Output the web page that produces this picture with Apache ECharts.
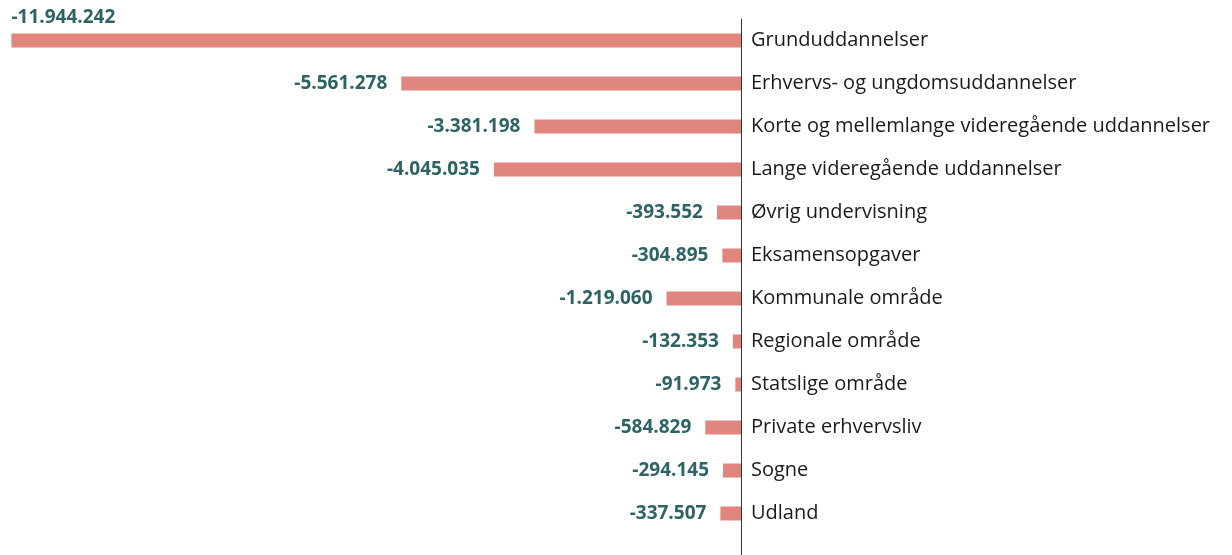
<!DOCTYPE html>
<html lang="da">
<head>
    <meta charset="UTF-8">
    <title>Uddannelser</title>
    <script src="https://cdn.jsdelivr.net/npm/echarts@6/dist/echarts.min.js"></script>
    <style>
        html, body { margin: 0; padding: 0; background: #ffffff; }
    </style>
</head>
<body>
<div id="chart" style="width: 1232px;height: 555px;"></div>
<script>
    var categories = [
        'Grunduddannelser',
        'Erhvervs- og ungdomsuddannelser',
        'Korte og mellemlange videregående uddannelser',
        'Lange videregående uddannelser',
        'Øvrig undervisning',
        'Eksamensopgaver',
        'Kommunale område',
        'Regionale område',
        'Statslige område',
        'Private erhvervsliv',
        'Sogne',
        'Udland'
    ];
    var values = [-11944242, -5561278, -3381198, -4045035, -393552, -304895,
        -1219060, -132353, -91973, -584829, -294145, -337507];

    var barColor = '#e1857f';
    var labelColor = '#2e6366';

    function fmt(v) {
        var s = Math.abs(v).toString().replace(/\B(?=(\d{3})+(?!\d))/g, '.');
        return (v < 0 ? '-' : '') + s;
    }

    var myChart = echarts.init(document.getElementById('chart'));

    var data = values.map(function (v, i) {
        var item = { value: v };
        if (i === 0) {
            // ingen plads til venstre - label over baren
            item.label = { position: [0, -6], align: 'left', verticalAlign: 'bottom' };
        }
        return item;
    });

    var option = {
        backgroundColor: '#ffffff',
        animation: false,
        grid: {
            left: 8,
            right: 491,
            top: 19,
            bottom: 20
        },
        xAxis: {
            type: 'value',
            min: -12000000,
            max: 0,
            show: false
        },
        yAxis: {
            type: 'category',
            inverse: true,
            position: 'right',
            data: categories,
            axisTick: { show: false },
            axisLine: {
                lineStyle: { color: '#333333', width: 1 }
            },
            axisLabel: {
                margin: 10,
                color: '#1a1a1a',
                fontFamily: 'Open Sans',
                fontSize: 20
            }
        },
        series: [{
            type: 'bar',
            barWidth: 14,
            itemStyle: { color: barColor },
            label: {
                show: true,
                position: 'left',
                distance: 14,
                color: labelColor,
                fontFamily: 'Open Sans',
                fontWeight: 'bold',
                fontSize: 19,
                formatter: function (p) { return fmt(p.value); }
            },
            data: data
        }]
    };
    myChart.setOption(option);

    // forlæng aksen ned til bunden
    var x0 = Math.round(myChart.convertToPixel({ xAxisIndex: 0 }, 0)) + 0.5;
    myChart.setOption({
        graphic: [{
            type: 'line',
            shape: { x1: x0, y1: 530, x2: x0, y2: 555 },
            style: { stroke: '#333333', lineWidth: 1 }
        }]
    });
</script>
</body>
</html>
